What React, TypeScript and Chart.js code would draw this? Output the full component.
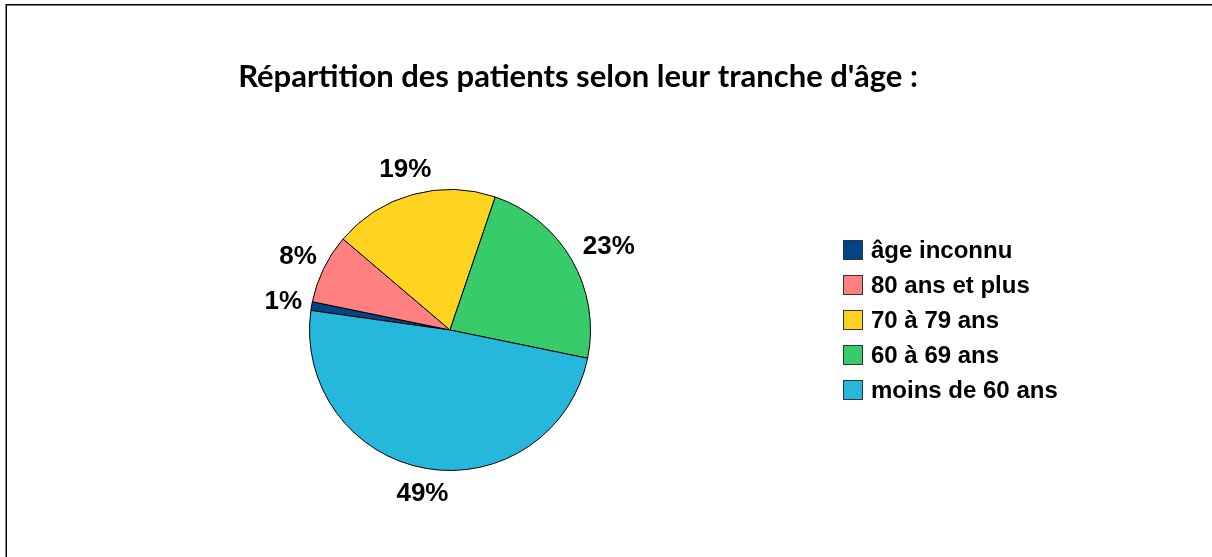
import React, { useEffect, useRef } from "react";
import { Chart, registerables } from "chart.js";

Chart.register(...registerables);

const TITLE = "Répartition des patients selon leur tranche d'âge :";
const CATEGORIES = ["âge inconnu", "80 ans et plus", "70 à 79 ans", "60 à 69 ans", "moins de 60 ans"];
const VALUES = [1, 8, 19, 23, 49];
const COLORS = ["#004586", "#FF8080", "#FFD320", "#37CB6A", "#26B8DC"];

const W = 1212;
const H = 557;

const framePlugin = {
  id: "frame",
  beforeDraw(chart: any) {
    const ctx = chart.ctx;
    ctx.save();
    ctx.fillStyle = "#ffffff";
    ctx.fillRect(0, 0, chart.width, chart.height);
    ctx.strokeStyle = "#000000";
    ctx.lineWidth = 1.5;
    ctx.beginPath();
    ctx.moveTo(6.25, chart.height);
    ctx.lineTo(6.25, 4.75);
    ctx.lineTo(chart.width, 4.75);
    ctx.stroke();
    ctx.restore();
  },
};

const titlePlugin = {
  id: "customTitle",
  afterDraw(chart: any) {
    const ctx = chart.ctx;
    ctx.save();
    ctx.fillStyle = "#000";
    ctx.font = "bold 31px Lato, 'Open Sans', sans-serif";
    ctx.textAlign = "center";
    ctx.textBaseline = "middle";
    ctx.fillText(TITLE, 578, 77);
    ctx.restore();
  },
};

const labelPlugin = {
  id: "pctLabels",
  afterDatasetsDraw(chart: any) {
    const ctx = chart.ctx;
    const meta = chart.getDatasetMeta(0);
    const data = chart.data.datasets[0].data as number[];
    const total = data.reduce((a, b) => a + b, 0);
    ctx.save();
    ctx.fillStyle = "#000";
    ctx.font = "bold 26px 'Liberation Sans', Arial, sans-serif";
    ctx.textAlign = "center";
    ctx.textBaseline = "middle";
    meta.data.forEach((arc: any, i: number) => {
      const p = arc.getProps(["x", "y", "startAngle", "endAngle", "outerRadius"], true);
      const mid = (p.startAngle + p.endAngle) / 2;
      const txt = Math.round((data[i] / total) * 100) + "%";
      const w = ctx.measureText(txt).width;
      const h = 26;
      const r = p.outerRadius + 13;
      const c = Math.cos(mid);
      const s = Math.sin(mid);
      const x = p.x + r * c + (w / 2) * c;
      const y = p.y + r * s + (h / 2) * s;
      ctx.fillText(txt, x + 3, y);
    });
    ctx.restore();
  },
};

const legendPlugin = {
  id: "customLegend",
  afterDraw(chart: any) {
    const ctx = chart.ctx;
    const labels = chart.data.labels as string[];
    const colors = chart.data.datasets[0].backgroundColor as string[];
    ctx.save();
    ctx.font = "bold 24px 'Liberation Sans', Arial, sans-serif";
    ctx.textBaseline = "middle";
    ctx.textAlign = "left";
    labels.forEach((lab, i) => {
      const bx = 843.5;
      const by = 240.5 + i * 35;
      ctx.fillStyle = colors[i];
      ctx.fillRect(bx, by, 19, 19);
      ctx.strokeStyle = "#333";
      ctx.lineWidth = 1;
      ctx.strokeRect(bx, by, 19, 19);
      ctx.fillStyle = "#000";
      ctx.fillText(lab, 871, by + 11);
    });
    ctx.restore();
  },
};

export default function App() {
  const ref = useRef<HTMLCanvasElement>(null);
  useEffect(() => {
    if (!ref.current) return;
    const chart = new Chart(ref.current, {
      type: "pie",
      data: {
        labels: CATEGORIES,
        datasets: [
          {
            data: VALUES,
            backgroundColor: COLORS,
            borderColor: "#000000",
            borderWidth: 1,
          },
        ],
      },
      options: {
        responsive: false,
        animation: false,
        rotation: 278,
        layout: { padding: { left: 309, right: 621, top: 189, bottom: 86 } },
        plugins: {
          legend: { display: false },
          tooltip: { enabled: false },
          title: { display: false },
        },
      },
      plugins: [framePlugin, titlePlugin, labelPlugin, legendPlugin],
    });
    return () => chart.destroy();
  }, []);
  return (
    <div style={{ position: "fixed", left: 0, top: 0, width: W, height: H, background: "#fff" }}>
      <canvas ref={ref} width={W} height={H} style={{ width: W, height: H, display: "block" }} />
    </div>
  );
}
